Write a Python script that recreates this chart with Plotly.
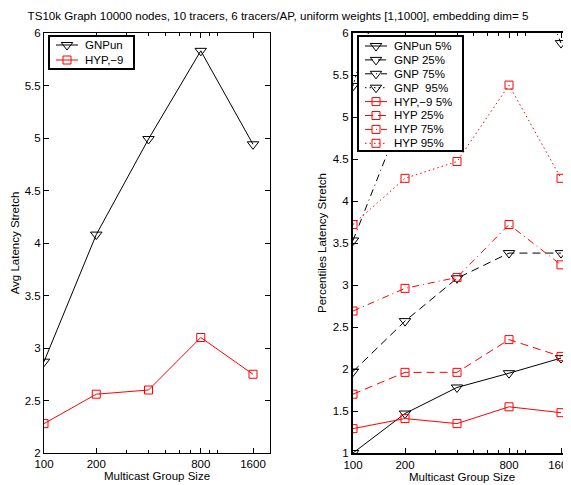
import plotly.graph_objects as go

# ---- data ----
group_sizes = [100, 200, 400, 800, 1600]
tick_vals = [100, 200, 800, 1600]
tick_text = ["100", "200", "800", "1600"]

avg_gnp = [2.87, 4.08, 4.99, 5.83, 4.94]
avg_hyp = [2.28, 2.56, 2.60, 3.10, 2.75]

gnp_p5 = [1.00, 1.47, 1.78, 1.95, 2.13]
gnp_p25 = [1.97, 2.57, 3.08, 3.38, 3.38]
gnp_p75 = [3.53, 5.10, 6.60, 7.40, 5.88]
gnp_p95 = [5.37, 7.50, 9.00, 10.50, 9.50]

hyp_p5 = [1.29, 1.41, 1.35, 1.55, 1.48]
hyp_p25 = [1.70, 1.96, 1.96, 2.35, 2.15]
hyp_p75 = [2.69, 2.96, 3.09, 3.72, 3.24]
hyp_p95 = [3.72, 4.27, 4.47, 5.38, 4.27]

title_text = "TS10k Graph 10000 nodes, 10 tracers, 6 tracers/AP, uniform weights [1,1000], embedding dim= 5"

# page body has an 8px margin, so the figure is sized to fill the rest of the window
W, H = 563, 477
ML, MR, MT, MB = 36, 0, 25, 32
PW = W - ML - MR
PH = H - MT - MB

FONT = "Liberation Sans, Arial, sans-serif"
RED = "#ff0000"
BLK = "#000000"
TRI = "triangle-down-open"
SQ = "square-open"
DASHES = {"solid": "solid", "dash": "8px,5px", "dashdot": "7px,4px,1px,4px", "dot": "1.5px,3px"}
SIZES = {TRI: 10, SQ: 8}

left_series = [
    ("GNPun", avg_gnp, BLK, TRI, "solid"),
    ("HYP,\u22129", avg_hyp, RED, SQ, "solid"),
]
right_series = [
    ("GNPun 5%", gnp_p5, BLK, TRI, "solid"),
    ("GNP 25%", gnp_p25, BLK, TRI, "dash"),
    ("GNP 75%", gnp_p75, BLK, TRI, "dashdot"),
    ("GNP  95%", gnp_p95, BLK, TRI, "dot"),
    ("HYP,\u22129 5%", hyp_p5, RED, SQ, "solid"),
    ("HYP 25%", hyp_p25, RED, SQ, "dash"),
    ("HYP 75%", hyp_p75, RED, SQ, "dashdot"),
    ("HYP 95%", hyp_p95, RED, SQ, "dot"),
]

fig = go.Figure()

def style(color, symbol, dash):
    return dict(
        line=dict(color=color, width=1, dash=DASHES[dash]),
        marker=dict(symbol=symbol, size=SIZES[symbol], color=color,
                    line=dict(color=color, width=1)),
    )

for name, vals, color, symbol, dash in left_series:
    fig.add_trace(go.Scatter(x=group_sizes, y=vals, name=name, mode="lines+markers",
                             xaxis="x", yaxis="y", showlegend=False,
                             **style(color, symbol, dash)))
for name, vals, color, symbol, dash in right_series:
    fig.add_trace(go.Scatter(x=group_sizes, y=vals, name=name, mode="lines+markers",
                             xaxis="x2", yaxis="y2", showlegend=False,
                             **style(color, symbol, dash)))

minor_vals = [300, 400, 500, 600, 700, 900, 1000, 2000]

def px_x(v):  # figure pixel -> paper fraction (x)
    return (v - ML) / PW

def px_y(v):  # figure pixel -> paper fraction (y)
    return 1 - (v - MT) / PH

def xaxis_cfg(domain, rng, lw, anchor):
    return dict(
        domain=domain, type="log", range=rng, anchor=anchor,
        tickmode="array", tickvals=tick_vals, ticktext=tick_text, tickangle=0,
        ticklabeloverflow="allow",
        ticks="inside", ticklen=5, tickcolor=BLK, tickwidth=1,
        minor=dict(tickmode="array", tickvals=minor_vals, ticks="inside",
                   ticklen=3, tickcolor=BLK, tickwidth=1, showgrid=False),
        showline=True, linecolor=BLK, linewidth=lw, mirror="ticks",
        showgrid=False, zeroline=False, automargin=False, fixedrange=True,
        tickfont=dict(size=11.5, color=BLK, family=FONT),
        title=dict(text="Multicast Group Size", standoff=3,
                   font=dict(size=11.5, color=BLK, family=FONT)),
    )

def yaxis_cfg(anchor, rng, lw, mirror, title, standoff):
    return dict(
        anchor=anchor, range=rng, dtick=0.5, tick0=0,
        ticks="inside", ticklen=5, tickcolor=BLK, tickwidth=1,
        showline=True, linecolor=BLK, linewidth=lw, mirror=mirror,
        showgrid=False, zeroline=False, automargin=False, fixedrange=True,
        tickfont=dict(size=11.5, color=BLK, family=FONT),
        title=dict(text=title, standoff=standoff,
                   font=dict(size=11.5, color=BLK, family=FONT)),
    )

d1 = [px_x(36), px_x(262)]
d2 = [px_x(345), 1]

# ---- boxed legends drawn in small inset axes (Matlab-style compact legends) ----
annotations = []

def add_legend(series, ax_id, box_x0, box_y0, box_w, box_h, row0, row_step):
    xa, ya = "x%d" % ax_id, "y%d" % ax_id
    # white background of legend box
    fig.add_trace(go.Scatter(x=[0, box_w, box_w, 0, 0], y=[0, 0, box_h, box_h, 0],
                             mode="lines", fill="toself", fillcolor="white",
                             line=dict(width=0), xaxis=xa, yaxis=ya,
                             showlegend=False, hoverinfo="skip"))
    for i, (name, vals, color, symbol, dash) in enumerate(series):
        yy = row0 + row_step * i
        fig.add_trace(go.Scatter(x=[6, 28], y=[yy, yy], mode="lines",
                                 line=dict(color=color, width=1, dash=DASHES[dash]),
                                 xaxis=xa, yaxis=ya, showlegend=False, hoverinfo="skip"))
        fig.add_trace(go.Scatter(x=[17], y=[yy], mode="markers",
                                 marker=dict(symbol=symbol, size=SIZES[symbol], color=color,
                                             line=dict(color=color, width=1)),
                                 xaxis=xa, yaxis=ya, showlegend=False, hoverinfo="skip"))
        annotations.append(dict(x=33, y=yy, xref=xa, yref=ya, text=name,
                                showarrow=False, xanchor="left", yanchor="middle",
                                font=dict(size=11.5, color=BLK, family=FONT)))
    axis_common = dict(showline=True, linecolor=BLK, linewidth=1.5, mirror=True,
                       showticklabels=False, ticks="", showgrid=False,
                       zeroline=False, fixedrange=True)
    fig.update_layout(**{
        "xaxis%d" % ax_id: dict(domain=[px_x(box_x0), px_x(box_x0 + box_w)],
                                range=[0, box_w], anchor=ya, **axis_common),
        "yaxis%d" % ax_id: dict(domain=[px_y(box_y0 + box_h), px_y(box_y0)],
                                range=[box_h, 0], anchor=xa, **axis_common),
    })

fig.update_layout(
    width=W, height=H,
    margin=dict(l=ML, r=MR, t=MT, b=MB, autoexpand=False),
    paper_bgcolor="white", plot_bgcolor="white",
    font=dict(family=FONT, color=BLK, size=12),
    title=dict(text=title_text, x=(278 - 8) / W, xref="container", xanchor="center",
               y=1 - 8 / H, yref="container", yanchor="middle",
               font=dict(size=11.6, color=BLK, family=FONT)),
    xaxis=xaxis_cfg(d1, [2, 3.302], 1, "y"),
    yaxis=yaxis_cfg("x", [2, 6], 1, "ticks", "Avg Latency Stretch", 2),
    xaxis2=xaxis_cfg(d2, [2, 3.262], 2, "y2"),
    yaxis2=yaxis_cfg("x2", [1, 6], 2, False, "Percentiles Latency Stretch", 4),
    showlegend=False,
)

add_legend(left_series, 3, 42, 29, 83, 31, 8, 15)
add_legend(right_series, 4, 351, 29, 103, 113, 9, 13.9)

fig.update_layout(annotations=annotations)

fig.write_html("out.html")
